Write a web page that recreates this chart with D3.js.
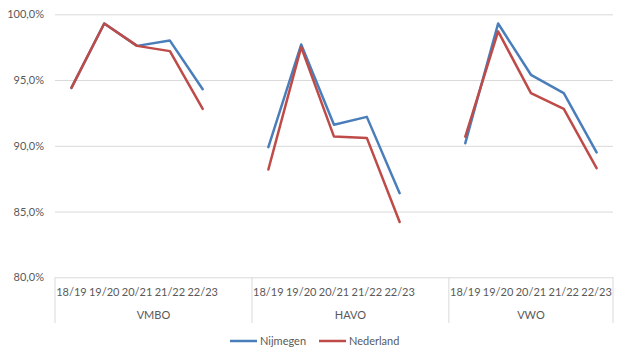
<!DOCTYPE html>
<html>
<head>
<meta charset="utf-8">
<script src="https://cdn.jsdelivr.net/npm/d3@7"></script>
<style>
    body { margin: 0; background: #fff; }
    svg text { font-family: Lato, 'Open Sans', sans-serif; fill: #595959; }
</style>
</head>
<body>
<svg width="627" height="361"></svg>
<script>
// Chart data
const groups = ['VMBO', 'HAVO', 'VWO'];
const years = ['18/19', '19/20', '20/21', '21/22', '22/23'];
const nijmegen = [
    [94.4, 99.3, 97.6, 98.0, 94.3],
    [89.9, 97.7, 91.6, 92.2, 86.4],
    [90.2, 99.3, 95.4, 94.0, 89.5]
];
const nederland = [
    [94.4, 99.3, 97.6, 97.2, 92.8],
    [88.2, 97.5, 90.7, 90.6, 84.2],
    [90.7, 98.7, 94.0, 92.8, 88.3]
];
const yTicks = [80, 85, 90, 95, 100];
const seriesNames = ['Nijmegen', 'Nederland'];
const seriesColors = ['#4A7EBB', '#BE4B48'];

const svg = d3.select('svg');
const plotLeft = 55, plotRight = 613, plotTop = 14.3, plotBottom = 277.3;

// Category slots: each group has its years plus one empty slot (not after the last group)
const slots = [];
groups.forEach((g, gi) => {
    years.forEach((y) => slots.push({ key: g + '|' + y, label: y, group: g }));
    if (gi < groups.length - 1) slots.push({ key: g + '|blank', label: '', group: g });
});

// Scales
const yScale = d3.scaleLinear().domain([80, 100]).range([plotBottom, plotTop]);
const xScale = d3.scaleBand().domain(slots.map((s) => s.key)).range([plotLeft, plotRight]);
const xPos = (g, y) => xScale(g + '|' + y) + xScale.bandwidth() / 2;
const groupStart = (g) => d3.min(slots.filter((s) => s.group === g), (s) => xScale(s.key));
const groupEnd = (g) => d3.max(slots.filter((s) => s.group === g), (s) => xScale(s.key)) + xScale.bandwidth();

// Gridlines and y labels
const yAxis = svg.append('g')
    .attr('transform', `translate(${plotLeft},0)`)
    .call(d3.axisLeft(yScale).tickValues(yTicks).tickSize(-(plotRight - plotLeft))
        .tickFormat((d) => d.toFixed(1).replace('.', ',') + '%'));
yAxis.select('.domain').remove();
yAxis.selectAll('line').attr('stroke', '#d9d9d9').attr('stroke-width', 1);
yAxis.selectAll('text').attr('x', -11).attr('font-size', 11).attr('fill', '#595959');

// Category axis separators
const sepBottom = 323;
svg.append('g').selectAll('line')
    .data([plotLeft].concat(groups.map(groupEnd)))
    .enter()
    .append('line')
    .attr('x1', (d) => d).attr('x2', (d) => d)
    .attr('y1', plotBottom).attr('y2', sepBottom)
    .attr('stroke', '#d9d9d9');

// Category labels
svg.append('g').selectAll('text')
    .data(slots.filter((s) => s.label))
    .enter()
    .append('text')
    .attr('x', (d) => xScale(d.key) + xScale.bandwidth() / 2)
    .attr('y', 296)
    .attr('text-anchor', 'middle')
    .attr('font-size', 11)
    .text((d) => d.label);

svg.append('g').selectAll('text')
    .data(groups)
    .enter()
    .append('text')
    .attr('x', (g) => (groupStart(g) + groupEnd(g)) / 2)
    .attr('y', 319)
    .attr('text-anchor', 'middle')
    .attr('font-size', 11)
    .text((g) => g);

// Lines, one segment per group
const line = d3.line().x((d) => d.x).y((d) => yScale(d.v));
[nijmegen, nederland].forEach((series, si) => {
    series.forEach((vals, gi) => {
        svg.append('path')
            .datum(vals.map((v, i) => ({ x: xPos(groups[gi], years[i]), v: v })))
            .attr('d', line)
            .attr('fill', 'none')
            .attr('stroke', seriesColors[si])
            .attr('stroke-width', 2.5)
            .attr('stroke-linejoin', 'round')
            .attr('stroke-linecap', 'round');
    });
});

// Legend
const legendX = [230, 319];
seriesNames.forEach((name, i) => {
    svg.append('line')
        .attr('x1', legendX[i]).attr('x2', legendX[i] + 27)
        .attr('y1', 341).attr('y2', 341)
        .attr('stroke', seriesColors[i])
        .attr('stroke-width', 2.5);
    svg.append('text')
        .attr('x', legendX[i] + 30)
        .attr('y', 345)
        .attr('font-size', 11)
        .text(name);
});
</script>
</body>
</html>
